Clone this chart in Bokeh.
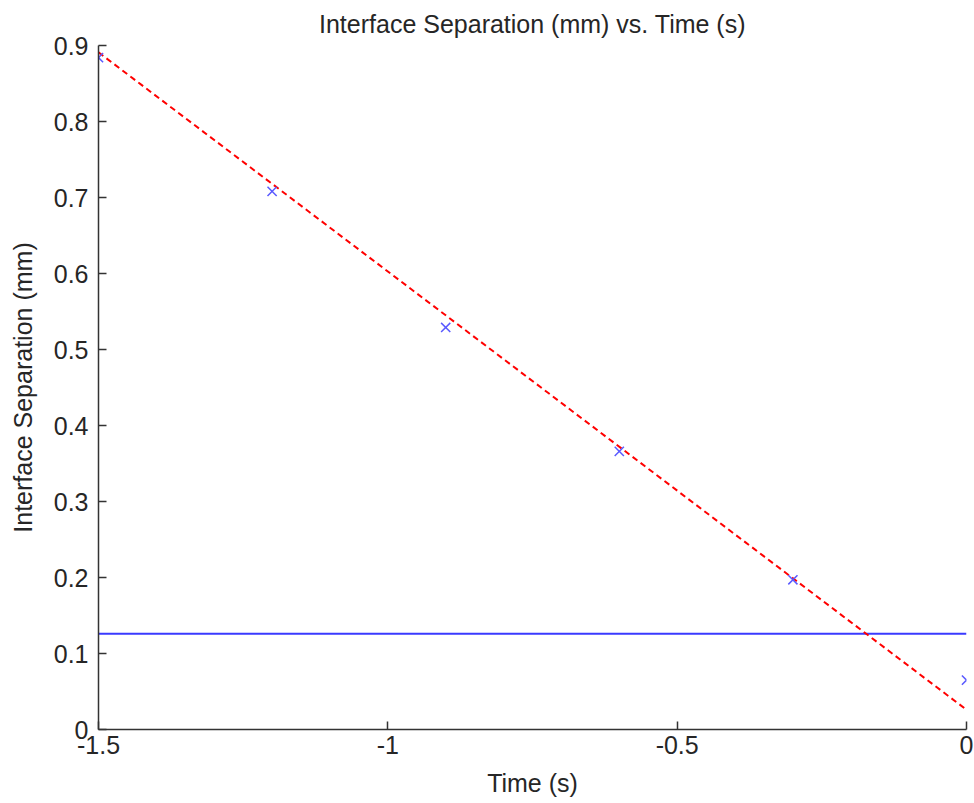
from bokeh.plotting import figure
from bokeh.models import FixedTicker, Range1d
from bokeh.embed import file_html
from bokeh.resources import INLINE

# ---- data ----
time_s = [-1.5, -1.2, -0.9, -0.6, -0.3, 0.0]
separation_mm = [0.884, 0.708, 0.529, 0.366, 0.197, 0.065]

fit_time = [-1.5, 0.0]
fit_sep = [0.891, 0.026]

threshold_time = [-1.5, 0.0]
threshold_sep = [0.126, 0.126]

x_ticks = [-1.5, -1.0, -0.5, 0.0]
x_tick_labels = ["-1.5", "-1", "-0.5", "0"]
y_ticks = [0.0, 0.1, 0.2, 0.3, 0.4, 0.5, 0.6, 0.7, 0.8, 0.9]
y_tick_labels = ["0", "0.1", "0.2", "0.3", "0.4", "0.5", "0.6", "0.7", "0.8", "0.9"]

FONT = "Liberation Sans"
TXT = "#262626"
AX = "#333333"

p = figure(width=974, height=803, output_backend="svg", toolbar_location=None,
           x_range=Range1d(-1.5, 0.0), y_range=Range1d(0.0, 0.9),
           title="Interface Separation (mm) vs. Time (s)",
           min_border_left=98, min_border_right=8, min_border_top=45, min_border_bottom=74)

p.title.align = "center"
p.title.vertical_align = "middle"
p.title.text_font = FONT
p.title.text_font_size = "25px"
p.title.text_font_style = "normal"
p.title.text_color = TXT
p.title.standoff = 14

p.outline_line_color = None
p.grid.visible = False
p.background_fill_color = "white"
p.border_fill_color = "white"

for ax in (p.xaxis[0], p.yaxis[0]):
    ax.major_tick_in = 8
    ax.major_tick_out = 0
    ax.minor_tick_line_color = None
    ax.axis_line_color = AX
    ax.axis_line_width = 1.5
    ax.major_tick_line_color = AX
    ax.major_tick_line_width = 1.5
    ax.major_label_text_font = FONT
    ax.major_label_text_font_size = "25px"
    ax.major_label_text_color = TXT
    ax.axis_label_text_font = FONT
    ax.axis_label_text_font_size = "25px"
    ax.axis_label_text_font_style = "normal"
    ax.axis_label_text_color = TXT

p.xaxis.ticker = FixedTicker(ticks=x_ticks)
p.xaxis.major_label_overrides = dict(zip(x_ticks, x_tick_labels))
p.yaxis.ticker = FixedTicker(ticks=y_ticks)
p.yaxis.major_label_overrides = dict(zip(y_ticks, y_tick_labels))

p.xaxis.axis_label = "Time (s)"
p.yaxis.axis_label = "Interface Separation (mm)"
p.xaxis.major_label_standoff = 6
p.xaxis.axis_label_standoff = 12
p.yaxis.major_label_standoff = 10
p.yaxis.axis_label_standoff = 14

p.line(threshold_time, threshold_sep, line_color="#3a3aff", line_width=2)
p.line(fit_time, fit_sep, line_color="#ff0000", line_width=2, line_dash="6 4")
p.scatter(time_s, separation_mm, marker="x", size=13, line_color="#5a5aff", line_width=1.5)

open("out.html", "w").write(file_html(p, INLINE))
